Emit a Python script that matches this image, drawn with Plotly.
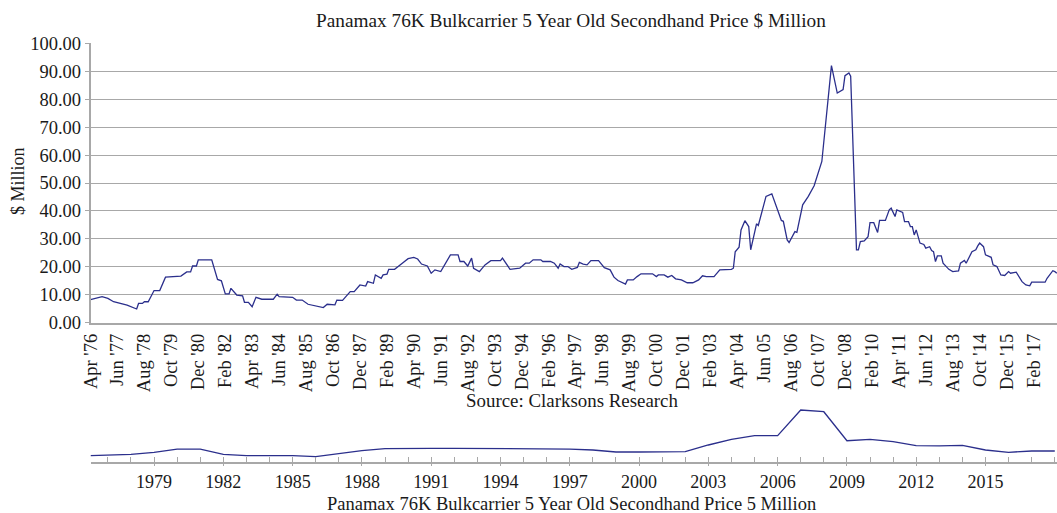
import plotly.graph_objects as go

# ---------------- data ----------------
main_dates = [
    "1976-04", "1976-10", "1977-01", "1977-04", "1977-11", "1978-04", "1978-05", "1978-07", "1978-08", "1978-10",
    "1979-01", "1979-04", "1979-07", "1980-03", "1980-06", "1980-08", "1980-09", "1980-11", "1980-12", "1981-07",
    "1981-10", "1981-12", "1982-02", "1982-04", "1982-05", "1982-08", "1982-11", "1982-12", "1983-02", "1983-04",
    "1983-06", "1983-09", "1984-03", "1984-05", "1984-06", "1985-01", "1985-03", "1985-06", "1985-09", "1986-05",
    "1986-07", "1986-11", "1986-12", "1987-03", "1987-07", "1987-09", "1987-12", "1988-03", "1988-04", "1988-07",
    "1988-08", "1988-11", "1988-12", "1989-02", "1989-03", "1989-06", "1989-10", "1990-01", "1990-04", "1990-06",
    "1990-08", "1990-11", "1991-01", "1991-03", "1991-06", "1991-11", "1992-03", "1992-04", "1992-06", "1992-08",
    "1992-10", "1992-11", "1993-02", "1993-05", "1993-08", "1994-01", "1994-02", "1994-06", "1994-11", "1995-02",
    "1995-04", "1995-06", "1995-10", "1995-11", "1996-03", "1996-05", "1996-07", "1996-08", "1996-10", "1996-12",
    "1997-02", "1997-05", "1997-06", "1997-08", "1997-10", "1997-12", "1998-04", "1998-07", "1998-10", "1998-12",
    "1999-02", "1999-06", "1999-07", "1999-10", "1999-12", "2000-02", "2000-08", "2000-10", "2000-11", "2001-02",
    "2001-04", "2001-06", "2001-08", "2001-11", "2002-02", "2002-05", "2002-08", "2002-10", "2002-12", "2003-04",
    "2003-07", "2004-01", "2004-02", "2004-03", "2004-05", "2004-06", "2004-08", "2004-10", "2004-11", "2005-02",
    "2005-03", "2005-05", "2005-07", "2005-10", "2006-03", "2006-04", "2006-06", "2006-07", "2006-10", "2006-11",
    "2007-02", "2007-05", "2007-08", "2007-12", "2008-05", "2008-08", "2008-11", "2008-12", "2009-02", "2009-03",
    "2009-06", "2009-07", "2009-08", "2009-10", "2009-12", "2010-01", "2010-03", "2010-05", "2010-06", "2010-09",
    "2010-11", "2010-12", "2011-02", "2011-03", "2011-06", "2011-07", "2011-09", "2011-10", "2011-11", "2011-12",
    "2012-01", "2012-03", "2012-05", "2012-06", "2012-08", "2012-09", "2012-10", "2012-11", "2012-12", "2013-02",
    "2013-03", "2013-06", "2013-08", "2013-11", "2013-12", "2014-02", "2014-03", "2014-06", "2014-08", "2014-09",
    "2014-10", "2014-12", "2015-01", "2015-04", "2015-05", "2015-07", "2015-09", "2015-11", "2016-01", "2016-02",
    "2016-05", "2016-08", "2016-10", "2016-12", "2017-01", "2017-08", "2017-09", "2017-12", "2018-01", "2018-02",
]
main_values = [
    8.3, 9.3, 8.7, 7.5, 6.3, 4.9, 6.9, 6.9, 7.5, 7.5,
    11.5, 11.5, 16.3, 16.7, 18.2, 18.2, 20.3, 20.3, 22.5, 22.5,
    15.5, 15.0, 10.3, 10.3, 12.3, 9.9, 9.6, 7.3, 7.3, 5.7,
    9.1, 8.4, 8.4, 10.2, 9.3, 9.1, 8.1, 8.1, 6.6, 5.4,
    6.6, 6.4, 8.1, 8.0, 11.1, 11.1, 13.5, 13.1, 14.7, 14.1,
    17.1, 15.9, 17.1, 17.4, 19.1, 19.1, 21.3, 22.9, 23.4, 22.8,
    21.0, 20.3, 17.7, 18.9, 18.3, 24.3, 24.3, 21.9, 21.9, 20.3,
    23.1, 19.5, 18.3, 20.7, 22.2, 22.2, 23.1, 19.1, 19.5, 21.3,
    21.3, 22.5, 22.5, 21.9, 21.9, 21.3, 19.5, 21.0, 20.1, 20.1,
    19.1, 19.8, 21.6, 21.0, 20.7, 22.2, 22.2, 19.7, 18.9, 16.3,
    15.1, 13.8, 15.3, 15.3, 16.5, 17.5, 17.5, 16.5, 17.1, 17.1,
    16.3, 16.9, 15.7, 15.3, 14.3, 14.3, 15.3, 16.8, 16.5, 16.5,
    18.9, 19.1, 19.5, 25.4, 27.0, 33.2, 36.5, 34.4, 26.1, 35.4,
    34.8, 40.4, 45.2, 46.1, 36.6, 36.3, 29.6, 28.7, 32.6, 32.3,
    42.2, 45.2, 49.0, 57.7, 92.0, 82.2, 83.4, 88.4, 89.4, 88.2,
    26.1, 26.1, 29.0, 29.3, 30.8, 35.8, 35.8, 32.3, 36.6, 36.6,
    40.4, 41.0, 38.0, 40.4, 39.5, 36.2, 36.2, 34.4, 34.4, 31.4,
    33.2, 28.5, 28.0, 26.7, 27.2, 25.8, 25.4, 21.9, 23.9, 23.9,
    21.3, 19.1, 18.3, 18.5, 21.3, 22.3, 21.3, 25.4, 26.1, 27.5,
    28.5, 27.2, 24.3, 23.4, 20.7, 20.1, 17.1, 16.9, 18.3, 17.7,
    18.1, 14.7, 13.5, 13.2, 14.5, 14.5, 15.9, 18.6, 18.3, 17.7,
]

tick_dates = [
    "1976-04", "1977-06", "1978-08", "1979-10", "1980-12", "1982-02", "1983-04", "1984-06", "1985-08",
    "1986-10", "1987-12", "1989-02", "1990-04", "1991-06", "1992-08", "1993-10", "1994-12", "1996-02",
    "1997-04", "1998-06", "1999-08", "2000-10", "2001-12", "2003-02", "2004-04", "2005-06", "2006-08",
    "2007-10", "2008-12", "2010-02", "2011-04", "2012-06", "2013-08", "2014-10", "2015-12", "2017-02",
]
tick_labels = [
    "Apr '76", "Jun '77", "Aug '78", "Oct '79", "Dec '80", "Feb '82", "Apr '83", "Jun '84", "Aug '85",
    "Oct '86", "Dec '87", "Feb '89", "Apr '90", "Jun '91", "Aug '92", "Oct '93", "Dec '94", "Feb '96",
    "Apr '97", "Jun '98", "Aug '99", "Oct '00", "Dec '01", "Feb '03", "Apr '04", "Jun 05", "Aug '06",
    "Oct '07", "Dec '08", "Feb '10", "Apr '11", "Jun '12", "Aug '13", "Oct '14", "Dec '15", "Feb '17",
]

annual_dates = [
    "1976-04", "1977-01", "1978-01", "1979-01", "1980-01", "1981-01", "1982-01", "1983-01", "1984-01",
    "1985-01", "1986-01", "1987-01", "1988-01", "1989-01", "1990-01", "1991-01", "1992-01", "1993-01",
    "1994-01", "1995-01", "1996-01", "1997-01", "1998-01", "1999-01", "2000-01", "2001-01", "2002-01",
    "2003-01", "2004-01", "2005-01", "2006-01", "2007-01", "2008-01", "2009-01", "2010-01", "2011-01",
    "2012-01", "2013-01", "2014-01", "2015-01", "2016-01", "2017-01", "2018-01",
]
annual_values = [
    9.2, 9.8, 11.4, 14.5, 19.5, 19.5, 11.4, 9.2, 9.2,
    9.2, 7.7, 12.3, 16.9, 20.0, 20.6, 20.6, 20.6, 20.6,
    20.6, 20.6, 20.6, 19.5, 18.0, 14.9, 14.9, 14.9, 15.4,
    25.7, 34.5, 40.0, 40.0, 79.5, 76.9, 32.3, 34.5, 30.8,
    24.6, 24.2, 25.2, 18.0, 14.5, 16.5, 16.5,
]
year_ticks = ["1979-01-01", "1982-01-01", "1985-01-01", "1988-01-01", "1991-01-01", "1994-01-01",
              "1997-01-01", "2000-01-01", "2003-01-01", "2006-01-01", "2009-01-01", "2012-01-01",
              "2015-01-01"]
year_labels = ["1979", "1982", "1985", "1988", "1991", "1994", "1997", "2000", "2003", "2006",
               "2009", "2012", "2015"]

title_text = "Panamax 76K Bulkcarrier 5 Year Old Secondhand Price $ Million"
bottom_title = "Panamax 76K Bulkcarrier 5 Year Old Secondhand Price 5 Million"
source_text = "Source: Clarksons Research"
y_title = "$ Million"

# ---------------- style / layout ----------------
W, H = 1057, 513
FONT = "Liberation Serif, Times New Roman, serif"
TXT = "#1a1a1a"
LINE = "#2b2f8c"
GRID = "#a8a8a8"
X_RANGE = ["1976-04-01", "2018-02-05"]


def px(x):
    return x / W


def py(y):
    return 1 - y / H


fig = go.Figure()
fig.add_trace(go.Scatter(x=main_dates, y=main_values, mode="lines",
                         line=dict(color=LINE, width=1.3), xaxis="x", yaxis="y",
                         showlegend=False, hoverinfo="x+y"))
fig.add_trace(go.Scatter(x=annual_dates, y=annual_values, mode="lines",
                         line=dict(color=LINE, width=1.3), xaxis="x2", yaxis="y2",
                         showlegend=False, hoverinfo="x+y"))

xdom = [px(90.5), 1.0]
fig.update_layout(
    width=W, height=H,
    margin=dict(l=0, r=0, t=0, b=0),
    paper_bgcolor="white", plot_bgcolor="white",
    font=dict(family=FONT, color=TXT, size=18),
    xaxis=dict(domain=xdom, anchor="y", type="date", range=X_RANGE,
               tickmode="array", tickvals=tick_dates, ticktext=tick_labels,
               tickangle=-90, ticks="outside", ticklen=2, tickcolor="rgba(0,0,0,0)",
               showline=True, linecolor=GRID, linewidth=1.5, showgrid=False,
               zeroline=False, automargin=False, tickfont=dict(size=18.5)),
    yaxis=dict(domain=[py(322.7), py(43.3)], anchor="x", range=[0, 100],
               tickmode="linear", tick0=0, dtick=10, tickformat=".2f",
               showgrid=True, gridcolor=GRID, gridwidth=1.3,
               showline=True, linecolor=GRID, linewidth=1.5,
               ticks="outside", ticklen=4, tickcolor=GRID,
               zeroline=False, automargin=False, tickfont=dict(size=18.5)),
    xaxis2=dict(domain=xdom, anchor="y2", type="date", range=X_RANGE,
                tickmode="array", tickvals=year_ticks, ticktext=year_labels,
                ticks="outside", ticklen=3, tickcolor=GRID, tickwidth=1.3,
                minor=dict(ticks="inside", ticklen=5, tickcolor=GRID, dtick="M12",
                           tick0="1977-01-01", showgrid=False),
                showline=True, linecolor=GRID, linewidth=1.5, showgrid=False,
                zeroline=False, automargin=False, tickfont=dict(size=18)),
    yaxis2=dict(domain=[py(461.7), py(396.7)], anchor="x2", range=[0, 100],
                visible=False),
    annotations=[
        dict(text=title_text, x=px(571), y=py(20), xref="paper", yref="paper",
             showarrow=False, xanchor="center", yanchor="middle", font=dict(size=19.3)),
        dict(text=y_title, x=px(18), y=py(181), xref="paper", yref="paper",
             showarrow=False, xanchor="center", yanchor="middle", textangle=-90,
             font=dict(size=18)),
        dict(text=source_text, x=px(572), y=py(400), xref="paper", yref="paper",
             showarrow=False, xanchor="center", yanchor="middle", font=dict(size=18.9)),
        dict(text=bottom_title, x=px(571.5), y=py(504), xref="paper", yref="paper",
             showarrow=False, xanchor="center", yanchor="middle", font=dict(size=18.5)),
    ],
)

# remove the browser's default 8px page margin so the figure fills the window
fig.write_html("out.html", config={"displayModeBar": False},
               post_script="document.body.style.margin='0';document.body.style.overflow='hidden';")
